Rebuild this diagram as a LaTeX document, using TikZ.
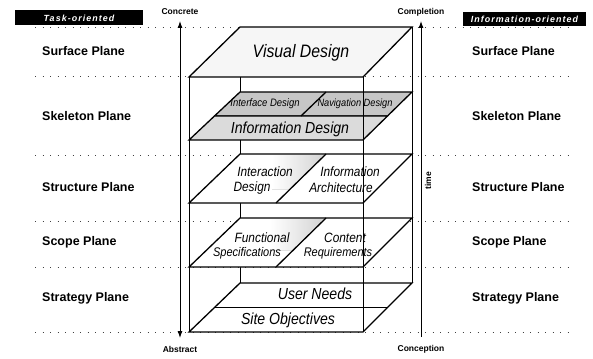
\documentclass[tikz,border=0pt]{standalone}
\usepackage{fontspec}
\setmainfont{Liberation Sans}
\newfontfamily\planefont[FakeStretch=0.88]{Liberation Sans}
\newfontfamily\tagfont[LetterSpace=12]{Liberation Sans}
\usetikzlibrary{arrows.meta}
\tikzset{
  planelabel/.style={font=\planefont\itshape, inner sep=0pt},
  sidelabel/.style={font=\bfseries\fontsize{12.5}{14}\selectfont, anchor=west, inner sep=0pt},
  axislabel/.style={font=\bfseries\fontsize{8.5}{10}\selectfont, inner sep=0pt},
  planebox/.style={draw=black, line width=1.3pt, line join=miter},
  edgeline/.style={draw=black, line width=0.9pt},
  guide/.style={draw=black!75, dash pattern=on 1pt off 6.5pt, line width=1pt},
  tagbox/.style={fill=black, text=white, font=\tagfont\bfseries\itshape\fontsize{8.9}{10}\selectfont, inner sep=0pt},
  axisarrow/.style={draw=black, line width=0.9pt},
  shadestrip/.style={left color=white, right color=gray!35},
}
\begin{document}
\begin{tikzpicture}[x=1pt,y=-1pt]
\path[fill=white, use as bounding box] (0,0) rectangle (593,358);

% dotted guide lines
\foreach \yy in {28,77,155,221,267,332}{
  \draw[guide] (35,\yy) -- (572,\yy);
}

% hidden back verticals
\draw[edgeline] (240,77) -- (240,283);
\draw[edgeline] (412,27) -- (412,283);

% Surface: Visual Design
\filldraw[planebox, fill=gray!7] (189,77) -- (240,27) -- (412,27) -- (363,77) -- cycle;

% Skeleton
\filldraw[planebox, fill=gray!45] (240,92) -- (412,92) -- (387.5,116) -- (214.5,116) -- cycle;
\filldraw[planebox, fill=gray!28] (214.5,116) -- (387.5,116) -- (363,140) -- (189,140) -- cycle;
\draw[planebox] (326,92) -- (301,116);

% Structure
\filldraw[planebox, fill=white] (189,203) -- (240,154) -- (412,154) -- (363,203) -- cycle;
\fill[shadestrip] (272,155) -- (325,155) -- (290,189) -- (272,189) -- cycle;
\draw[planebox] (326,154) -- (276,203);

% Scope
\filldraw[planebox, fill=white] (189,267) -- (240,218) -- (412,218) -- (363,267) -- cycle;
\fill[shadestrip] (270,219) -- (325,219) -- (293,250) -- (270,250) -- cycle;
\draw[planebox] (326,218) -- (276,267);

% Strategy
\filldraw[planebox, fill=white] (189,332) -- (240,283) -- (412,283) -- (363,332) -- cycle;
\draw[planebox] (214.5,307.5) -- (387.5,307.5);

% front verticals
\draw[edgeline] (189,77) -- (189,332);
\draw[edgeline] (363,77) -- (363,332);

% plane texts
\node[planelabel, font=\planefont\itshape\fontsize{18}{20}\selectfont] (visual) at (301,53) {Visual Design};
\node[planelabel, font=\planefont\itshape\fontsize{10.8}{12}\selectfont] (interface) at (265,104) {Interface Design};
\node[planelabel, font=\planefont\itshape\fontsize{10.5}{12}\selectfont] (navigation) at (355,104) {Navigation Design};
\node[planelabel, font=\planefont\itshape\fontsize{16}{18}\selectfont] (infodesign) at (290,129) {Information Design};
\node[planelabel, font=\planefont\itshape\fontsize{13.5}{15}\selectfont] (interaction) at (265,172) {Interaction};
\node[planelabel, font=\planefont\itshape\fontsize{13.5}{15}\selectfont] (design) at (252,188) {Design};
\node[planelabel, font=\planefont\itshape\fontsize{13.5}{15}\selectfont] (information) at (350,172) {Information};
\node[planelabel, font=\planefont\itshape\fontsize{13.5}{15}\selectfont] (architecture) at (341,188) {Architecture};
\node[planelabel, font=\planefont\itshape\fontsize{13.5}{15}\selectfont] (functional) at (262,238) {Functional};
\node[planelabel, font=\planefont\itshape\fontsize{12.5}{14}\selectfont] (specs) at (247,253) {Specifications};
\node[planelabel, font=\planefont\itshape\fontsize{13.5}{15}\selectfont] (content) at (345,238) {Content};
\node[planelabel, font=\planefont\itshape\fontsize{12.5}{14}\selectfont] (requirements) at (338,253) {Requirements};
\node[planelabel, font=\planefont\itshape\fontsize{16}{18}\selectfont] (userneeds) at (315,294) {User Needs};
\node[planelabel, font=\planefont\itshape\fontsize{16}{18}\selectfont] (siteobj) at (288,320) {Site Objectives};

% axis arrows
\coordinate (ltop) at (180,21);
\coordinate (lbot) at (180,338);
\coordinate (rtop) at (421,21);
\coordinate (rbot) at (421,337);
\draw[axisarrow, {Latex[length=7pt,width=5pt]}-{Latex[length=7pt,width=5pt]}] (lbot) -- (ltop);
\draw[axisarrow, -{Latex[length=7pt,width=5pt]}] (rbot) -- (rtop);

\node[axislabel] (concrete) at (180,12) {Concrete};
\node[axislabel] (abstract) at (180,349) {Abstract};
\node[axislabel] (completion) at (421,12) {Completion};
\node[axislabel] (conception) at (421,349) {Conception};
\node[axislabel, rotate=90] (time) at (428,181) {time};

% header tags
\node[tagbox, minimum width=128pt, minimum height=15pt] (task) at (79,18) {Task-oriented};
\node[tagbox, minimum width=123pt, minimum height=14pt] (inform) at (524.5,19) {Information-oriented};

% side labels
\node[sidelabel] (lsurface) at (42,51) {Surface Plane};
\node[sidelabel] (lskeleton) at (42,116) {Skeleton Plane};
\node[sidelabel] (lstructure) at (42,187) {Structure Plane};
\node[sidelabel] (lscope) at (42,242) {Scope Plane};
\node[sidelabel] (lstrategy) at (42,298) {Strategy Plane};
\node[sidelabel] (rsurface) at (472,51) {Surface Plane};
\node[sidelabel] (rskeleton) at (472,116) {Skeleton Plane};
\node[sidelabel] (rstructure) at (472,187) {Structure Plane};
\node[sidelabel] (rscope) at (472,242) {Scope Plane};
\node[sidelabel] (rstrategy) at (472,298) {Strategy Plane};
\end{tikzpicture}
\end{document}
